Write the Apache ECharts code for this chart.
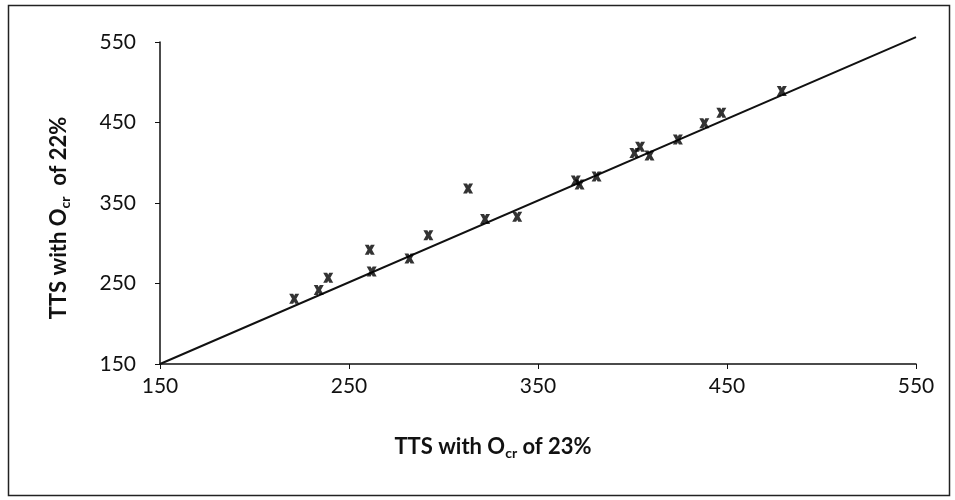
<!DOCTYPE html>
<html>
	<head>
		<meta charset="utf-8" />
		<title>TTS</title>
		<style type="text/css">
			body,
			html,
			#chart {
				width: 100%;
				height: 100%;
				overflow: hidden;
				margin: 0;
				background: #fff;
			}
		</style>
	</head>
	<body>
		<div id="chart"></div>
		<script src="https://cdn.jsdelivr.net/npm/echarts@6/dist/echarts.min.js"></script>
		<script>
			// TTS values
			var tts23 = [221, 234, 239, 261, 262, 282, 292, 313, 322, 339, 370, 372, 381, 401, 404, 409, 424, 438, 447, 479];
			var tts22 = [231, 242, 257, 292, 265, 281, 310, 368, 330, 333, 378, 373, 383, 412, 420, 409, 429, 449, 462, 489];
			// 1:1 reference line
			var lineX = [150, 550];
			var lineY = [150, 556];
			var axisTicks = [150, 250, 350, 450, 550];

			var points = tts23.map(function (x, i) {
				return [x, tts22[i]];
			});
			var linePts = lineX.map(function (x, i) {
				return [x, lineY[i]];
			});

			var chart = echarts.init(document.getElementById('chart'));
			var font = 'Lato';
			// bold "x" marker with flat caps, like the original
			var cross = 'path://M0,0 L4,0 L5,2 L6,0 L10,0 L7.2,5 L10,10 L6,10 L5,8 L4,10 L0,10 L2.8,5 Z';

			var option = {
				animation: false,
				backgroundColor: '#fff',
				grid: { left: 160, right: 39, top: 42, bottom: 136 },
				graphic: [
					{
						type: 'rect',
						shape: { x: 8.5, y: 5.5, width: 941, height: 490 },
						style: { fill: 'none', stroke: '#222', lineWidth: 1.5 },
						silent: true
					}
				],
				xAxis: {
					type: 'value',
					min: axisTicks[0],
					max: axisTicks[axisTicks.length - 1],
					interval: 100,
					splitLine: { show: false },
					axisLine: { lineStyle: { color: '#111', width: 1.5 } },
					axisTick: { show: true, length: 5, lineStyle: { color: '#111' } },
					axisLabel: { color: '#111', fontFamily: font, fontSize: 21, margin: 12 },
					name: 'TTS with O{sub|cr} of 23%',
					nameLocation: 'middle',
					nameGap: 70,
					nameTextStyle: {
						color: '#111',
						fontFamily: font,
						fontWeight: 'bold',
						fontSize: 22,
						padding: [0, 90, 0, 0],
						rich: {
							sub: { fontFamily: font, fontWeight: 'bold', fontSize: 14, padding: [12, 0, 0, 0] }
						}
					}
				},
				yAxis: {
					type: 'value',
					min: axisTicks[0],
					max: axisTicks[axisTicks.length - 1],
					interval: 100,
					splitLine: { show: false },
					axisLine: { show: true, lineStyle: { color: '#111', width: 1.5 } },
					axisTick: { show: true, length: 5, lineStyle: { color: '#111' } },
					axisLabel: { color: '#111', fontFamily: font, fontSize: 21, margin: 24 },
					name: 'TTS with O{sub|cr}  of 22%',
					nameLocation: 'middle',
					nameGap: 88,
					nameTextStyle: {
						color: '#111',
						fontFamily: font,
						fontWeight: 'bold',
						fontSize: 22,
						padding: [0, 30, 0, 0],
						rich: {
							sub: { fontFamily: font, fontWeight: 'bold', fontSize: 14, padding: [12, 0, 0, 0] }
						}
					}
				},
				series: [
					{
						type: 'line',
						data: linePts,
						symbol: 'none',
						clip: false,
						lineStyle: { color: '#111', width: 2 },
						z: 1
					},
					{
						type: 'scatter',
						data: points,
						symbol: cross,
						symbolSize: 10,
						itemStyle: { color: '#000' },
						z: 2
					}
				]
			};
			chart.setOption(option);
		</script>
	</body>
</html>
